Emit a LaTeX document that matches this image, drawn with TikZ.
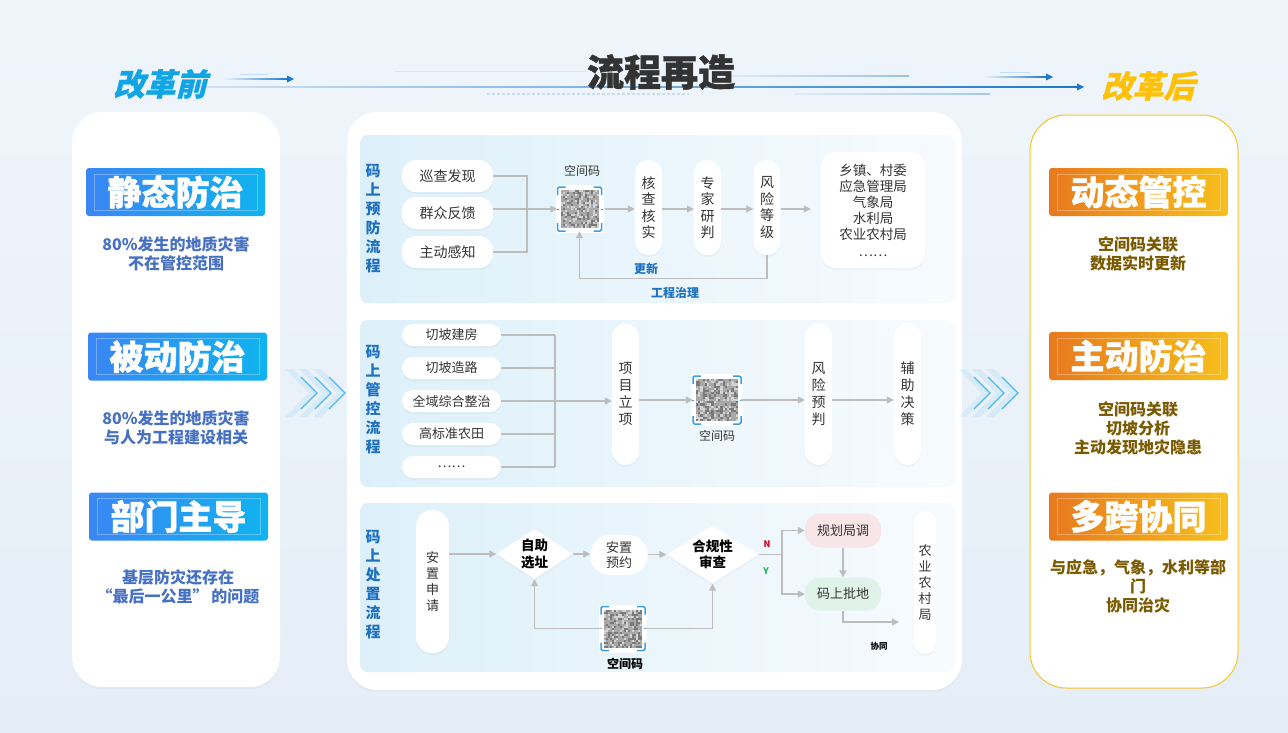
\documentclass[tikz,border=0pt]{standalone}
\usepackage{fontspec}
\setmainfont{Noto Sans CJK SC}
\newfontfamily\slantcjk{Noto Sans CJK SC}[FakeSlant=0.25,FakeBold=0.8]
\newfontfamily\heavycjk{Noto Sans CJK SC}[FakeBold=1.2]
\usetikzlibrary{arrows.meta,shapes.geometric,shadows,calc}
\definecolor{bgtop}{HTML}{EFF5FB}
\definecolor{bgbot}{HTML}{E5EEF7}
\definecolor{txt}{HTML}{333333}
\definecolor{lbl}{HTML}{1E70C1}
\definecolor{lg}{HTML}{BDBDBD}
\definecolor{secL}{HTML}{DDF0FA}
\definecolor{secR}{HTML}{F7FBFE}
\definecolor{qrblue}{HTML}{3A9FEA}
\definecolor{qrbase}{HTML}{A8A8A8}
\definecolor{qrdark}{HTML}{7A7A7A}
\definecolor{qrlight}{HTML}{D2D2D2}
\definecolor{bl1}{HTML}{3A86F4}
\definecolor{bl2}{HTML}{10B3EF}
\definecolor{or1}{HTML}{E8791E}
\definecolor{orm}{HTML}{F2AC40}
\definecolor{or2}{HTML}{F7C01C}
\definecolor{ldesc}{HTML}{4670C4}
\definecolor{rdesc}{HTML}{7A5A00}
\definecolor{gold}{HTML}{F5C62A}
\definecolor{cyanh}{HTML}{12A5E6}
\definecolor{goldh}{HTML}{FFC107}
\definecolor{lineb}{HTML}{1C78CC}
\definecolor{pinkb}{HTML}{F7E5E7}
\definecolor{greenb}{HTML}{E0F3EA}
\definecolor{nred}{HTML}{D0021B}
\definecolor{ygreen}{HTML}{1DB954}
\definecolor{chev}{HTML}{38B0F0}
\newcommand\fs[2]{\fontsize{#1}{#2}\selectfont}
% QR-like code inside a named node: #1 node name, #2 half size
\newcommand\qrfill[2]{%
  \begin{scope}[shift={(#1.center)}]
    \fill[white] (-#2-5,-#2-5) rectangle (#2+5,#2+5);
    \fill[qrbase] (-#2,-#2) rectangle (#2,#2);
    \pgfmathsetmacro\qrc{2*#2/19}
    \foreach \i in {0,...,18}{\foreach \j in {0,...,18}{%
      \pgfmathrandominteger{\qrr}{0}{3}%
      \ifcase\qrr \fill[qrdark] ({-#2+\i*\qrc},{-#2+\j*\qrc}) rectangle ++(\qrc,\qrc);
      \or \fill[qrlight] ({-#2+\i*\qrc},{-#2+\j*\qrc}) rectangle ++(\qrc,\qrc);
      \else \fi}}
    \begin{scope}[qrblue, line width=1.5pt, rounded corners=1.5pt]
      \draw (-#2-3,-#2+5) -- (-#2-3,-#2-3) -- (-#2+5,-#2-3);
      \draw (#2+3,-#2+5) -- (#2+3,-#2-3) -- (#2-5,-#2-3);
      \draw (-#2-3,#2-5) -- (-#2-3,#2+3) -- (-#2+5,#2+3);
      \draw (#2+3,#2-5) -- (#2+3,#2+3) -- (#2-5,#2+3);
    \end{scope}
    \draw[qrblue, line width=1pt] (-#2-4,0) -- (-#2-2,0) (#2+2,0) -- (#2+4,0);
  \end{scope}}
\newcommand\chevs[2]{%
  \foreach \k in {0,1,2}{%
    \fill[chev, opacity=0.10] ({#1+\k*14-24},{#2-24}) -- ({#1+\k*14},{#2}) -- ({#1+\k*14-24},{#2+24}) -- ({#1+\k*14-32},{#2+24}) -- ({#1+\k*14-8},{#2}) -- ({#1+\k*14-32},{#2-24}) -- cycle;
    \draw[chev, line width=1.3pt, opacity=0.85] ({#1+\k*14-16},{#2-16}) -- ({#1+\k*14},{#2}) -- ({#1+\k*14-16},{#2+16});}}
\begin{document}
\begin{tikzpicture}[x=1pt,y=-1pt,
  panel/.style={fill=white, rounded corners=30pt, inner sep=0pt},
  secbox/.style={rounded corners=8pt, left color=secL, right color=secR, inner sep=0pt},
  seclab/.style={font=\fs{15}{19}\bfseries, text=lbl, align=center},
  pill/.style={fill=white, rounded corners=14pt, minimum width=91pt, minimum height=32pt, inner sep=0pt, font=\fs{14}{16}, text=txt, drop shadow={opacity=0.06, shadow xshift=0pt, shadow yshift=-2pt}},
  spill/.style={pill, rounded corners=11pt, minimum width=99pt, minimum height=22pt, font=\fs{13}{15}},
  tall/.style={fill=white, rounded corners=13pt, minimum width=27pt, inner sep=0pt, align=center, font=\fs{14}{16.5}, text=txt, drop shadow={opacity=0.06, shadow xshift=0pt, shadow yshift=-2pt}},
  qrnode/.style={minimum size=#1, inner sep=0pt},
  conn/.style={draw=lg, line width=1.2pt, -{Triangle[length=7pt,width=7pt]}},
  plain/.style={draw=lg, line width=1.2pt},
  dia/.style={diamond, fill=white, inner sep=0pt, aspect=1.6, align=center, font=\fs{13.5}{16.5}\bfseries, text=black, drop shadow={opacity=0.05, shadow xshift=0pt, shadow yshift=-2pt}},
  badgeb/.style={rounded corners=3pt, left color=bl1, right color=bl2, minimum width=179pt, minimum height=48pt, inner sep=0pt, text=white, font=\heavycjk\fs{34}{34}\bfseries},
  badgeo/.style={rounded corners=3pt, left color=or1, middle color=orm, right color=or2, minimum width=179pt, minimum height=48pt, inner sep=0pt, text=white, font=\heavycjk\fs{34}{34}\bfseries},
  ldsc/.style={align=center, text=ldesc, font=\fs{16}{19.5}\bfseries},
  rdsc/.style={align=center, text=rdesc, font=\fs{16}{19}\bfseries},
  small/.style={font=\fs{12}{14}, text=txt},
  bluelab/.style={font=\fs{12}{14}\bfseries, text=lbl}
]
\pgfmathsetseed{7}
\useasboundingbox (0,0) rectangle (1288,732);
\shade[top color=bgtop, bottom color=bgbot] (0,0) rectangle (1288,732);

% ---------- header lines ----------
\fill[lineb!18] (395,70.5) rectangle (586,71.5);
\shade[left color=lineb!15, right color=lineb!45] (726,75.5) rectangle (909,76.8);
\draw[lineb!25, line width=1.3pt, dash pattern=on 3pt off 2pt] (487,94) -- (689,94);
\shade[left color=lineb!15, right color=lineb!40] (795,93.5) rectangle (990,94.8);
\shade[left color=lineb!20, right color=lineb] (190,86.3) rectangle (1078,87.8);
\fill[lineb] (1077,83.5) -- (1084,87) -- (1077,90.5) -- cycle;
\shade[left color=bgtop, right color=lineb] (223,78.3) rectangle (288,79.7);
\fill[lineb] (287,75.5) -- (294,79) -- (287,82.5) -- cycle;
\fill[lineb!25] (240,73.5) rectangle (268,74.3);
\shade[left color=bgtop, right color=lineb] (982,76.3) rectangle (1047,77.7);
\fill[lineb] (1046,73.5) -- (1053,77) -- (1046,80.5) -- cycle;
\fill[lineb!25] (1000,71.5) rectangle (1030,72.3);

\node[font=\slantcjk\fs{31}{31}\bfseries, text=cyanh] (before) at (160,84) {改革前};
\node[font=\heavycjk\fs{37}{37}\bfseries, text=txt] (title) at (661,72) {流程再造};
\node[font=\slantcjk\fs{31}{31}\bfseries, text=goldh] (after) at (1148,86) {改革后};

% ---------- panels ----------
\node[panel, minimum width=208pt, minimum height=575pt, drop shadow={opacity=0.05, shadow xshift=0pt, shadow yshift=-2pt}] (lp) at (176,399.5) {};
\node[panel, minimum width=615pt, minimum height=578pt, drop shadow={opacity=0.05, shadow xshift=0pt, shadow yshift=-2pt}] (mp) at (654.5,401) {};
\node[panel, draw=gold, line width=1pt, rounded corners=36pt, minimum width=208pt, minimum height=573pt] (rp) at (1134,401.5) {};

\chevs{317}{393}
\chevs{990}{393}

% ---------- left panel ----------
\node[badgeb] (bz1) at (175.5,192) {静态防治};
\node[badgeb] (bz2) at (177.5,356.5) {被动防治};
\node[badgeb] (bz3) at (178.5,516.5) {部门主导};
\foreach \n in {bz1,bz2,bz3}{\draw[white, opacity=0.3, line width=0.6pt] ($(\n.south west)+(8,-6)$) rectangle ($(\n.north east)+(-8,6)$);}
\node[ldsc] (dz1) at (176,254) {80\%发生的地质灾害\\不在管控范围};
\node[ldsc] (dz2) at (176,428) {80\%发生的地质灾害\\与人为工程建设相关};
\node[ldsc] (dz3) at (178,587) {基层防灾还存在\hspace{1.2em}\\“最后一公里”\,的问题};

% ---------- right panel ----------
\node[badgeo] (bh1) at (1138.5,192) {动态管控};
\node[badgeo] (bh2) at (1138.5,356) {主动防治};
\node[badgeo] (bh3) at (1138.5,516.5) {多跨协同};
\foreach \n in {bh1,bh2,bh3}{\draw[white, opacity=0.3, line width=0.6pt] ($(\n.south west)+(8,-6)$) rectangle ($(\n.north east)+(-8,6)$);}
\node[rdsc] (dh1) at (1138,254) {空间码关联\\数据实时更新};
\node[rdsc] (dh2) at (1138,428) {空间码关联\\切坡分析\\主动发现地灾隐患};
\node[rdsc] (dh3) at (1138,586) {与应急，气象，水利等部\\门\\协同治灾};

% ---------- sections ----------
\node[secbox, minimum width=595pt, minimum height=168pt] (s1) at (657.5,219) {};
\node[secbox, minimum width=595pt, minimum height=167pt] (s2) at (657.5,403.5) {};
\node[secbox, minimum width=595pt, minimum height=169pt] (s3) at (657.5,587.5) {};
\node[seclab] (l1) at (373,219) {码\\上\\预\\防\\流\\程};
\node[seclab] (l2) at (373,400) {码\\上\\管\\控\\流\\程};
\node[seclab] (l3) at (373,585) {码\\上\\处\\置\\流\\程};

% ---- section 1 ----
\node[pill] (p1) at (447.5,176) {巡查发现};
\node[pill] (p2) at (447.5,213) {群众反馈};
\node[pill] (p3) at (447.5,252) {主动感知};
\coordinate (j1) at (527,209);
\node[qrnode=50pt] (qr1) at (579.5,209) {};
\qrfill{qr1}{19}
\node[small] (ql1) at (582,171) {空间码};
\node[tall, minimum height=95pt] (a1) at (648.5,207.5) {核\\查\\核\\实};
\node[tall, minimum height=95pt] (a2) at (707.5,207.5) {专\\家\\研\\判};
\node[tall, minimum height=95pt] (a3) at (767,207.5) {风\\险\\等\\级};
\node[fill=white, rounded corners=15pt, minimum width=104pt, minimum height=116pt, inner sep=0pt, align=center, font=\fs{13.5}{16.2}, text=txt, drop shadow={opacity=0.06, shadow xshift=0pt, shadow yshift=-2pt}] (org) at (873,210) {乡镇、村委\\应急管理局\\气象局\\水利局\\农业农村局\\……};
\draw[plain] (p1.east) -| (j1);
\draw[plain] (p3.east) -| (j1);
\draw[plain] (p2.east |- j1) -- (j1);
\draw[conn] (j1) -- ($(qr1.west)+(3,0)$);
\draw[conn] (qr1.east) -- (qr1.east -| a1.west);
\draw[conn] (a1.east |- qr1.east) -- (qr1.east -| a2.west);
\draw[conn] (a2.east |- qr1.east) -- (qr1.east -| a3.west);
\draw[conn, shorten >=10pt] (a3.east |- qr1.east) -- (qr1.east -| org.west);
\draw[conn] (a3.south) -- ++(0,23) -| ($(qr1.south)+(0,-3)$);
\node[bluelab] (upd) at (646,269) {更新};
\node[bluelab] (gczl) at (675,293) {工程治理};

% ---- section 2 ----
\node[spill] (q1) at (451.5,335) {切坡建房};
\node[spill] (q2) at (451.5,368) {切坡造路};
\node[spill] (q3) at (451.5,401) {全域综合整治};
\node[spill] (q4) at (451.5,434) {高标准农田};
\node[spill] (q5) at (451.5,467) {……};
\coordinate (j2) at (555,401);
\foreach \q in {q1,q2,q3,q4,q5}{\draw[plain] (\q.east) -- (\q.east -| j2);}
\draw[plain] (q1.east -| j2) -- (q5.east -| j2);
\node[tall, minimum height=142pt, rounded corners=14pt, font=\fs{14}{17}] (b1) at (625.5,394) {项\\目\\立\\项};
\node[qrnode=54pt] (qr2) at (717,400) {};
\qrfill{qr2}{21}
\node[small] (ql2) at (717,436) {空间码};
\node[tall, minimum height=142pt, rounded corners=14pt, font=\fs{14}{17}] (b2) at (818.5,394) {风\\险\\预\\判};
\node[tall, minimum height=142pt, rounded corners=14pt, font=\fs{14}{17}] (b3) at (907.5,394) {辅\\助\\决\\策};
\draw[conn] (j2) -- (j2 -| b1.west);
\draw[conn] (b1.east |- qr2.west) -- ($(qr2.west)+(3,0)$);
\draw[conn] ($(qr2.east)+(-3,0)$) -- (qr2.east -| b2.west);
\draw[conn] (b2.east |- qr2.east) -- (qr2.east -| b3.west);

% ---- section 3 ----
\node[tall, minimum width=33pt, minimum height=143pt, rounded corners=16pt, font=\fs{13}{16}] (c1) at (432.5,581.5) {安\\置\\申\\请};
\node[dia, minimum width=76pt, minimum height=50pt] (d1) at (534.5,554) {自助\\选址};
\node[fill=white, rounded corners=19pt, minimum width=57pt, minimum height=40pt, inner sep=0pt, align=center, font=\fs{13}{15.5}, text=txt] (e1) at (619,555) {安置\\预约};
\node[dia, minimum width=92pt, minimum height=58pt] (d2) at (712.5,554.5) {合规性\\审查};
\coordinate (br) at (782,554.5);
\node[fill=pinkb, rounded corners=15pt, minimum width=76pt, minimum height=34pt, inner sep=0pt, font=\fs{13}{15}, text=txt] (f1) at (843,530.5) {规划局调};
\node[fill=greenb, rounded corners=15pt, minimum width=76pt, minimum height=33pt, inner sep=0pt, font=\fs{13}{15}, text=txt] (f2) at (843,594) {码上批地};
\node[tall, minimum width=22pt, minimum height=143pt, rounded corners=11pt, font=\fs{13}{16}] (g1) at (925,582.5) {农\\业\\农\\村\\局};
\node[qrnode=50pt] (qr3) at (623,628.5) {};
\qrfill{qr3}{19}
\node[font=\fs{12}{14}\bfseries, text=black] (ql3) at (625,664) {空间码};
\coordinate (co) at (899,622);
\draw[conn] (c1.east |- d1.west) -- (d1.west);
\draw[conn] (d1.east) -- (d1.east -| e1.west);
\draw[conn] (e1.east |- d2.west) -- (d2.west);
\draw[plain] (d2.east) -- (br);
\draw[conn] (br) |- (f1.west);
\draw[conn] (br) |- (f2.west);
\draw[conn] (f1.south) -- (f2.north);
\draw[conn] (f2.south) |- (co);
\draw[conn] ($(qr3.west)+(3,0)$) -| (d1.south);
\draw[conn] ($(qr3.east)+(-3,0)$) -| (d2.south);
\node[font=\fs{9}{10}\bfseries, text=nred] (nl) at (767,544) {N};
\node[font=\fs{9}{10}\bfseries, text=ygreen] (yl) at (766,571) {Y};
\node[font=\fs{8.5}{10}\bfseries, text=black] (xt) at (879,646) {协同};
\end{tikzpicture}
\end{document}
